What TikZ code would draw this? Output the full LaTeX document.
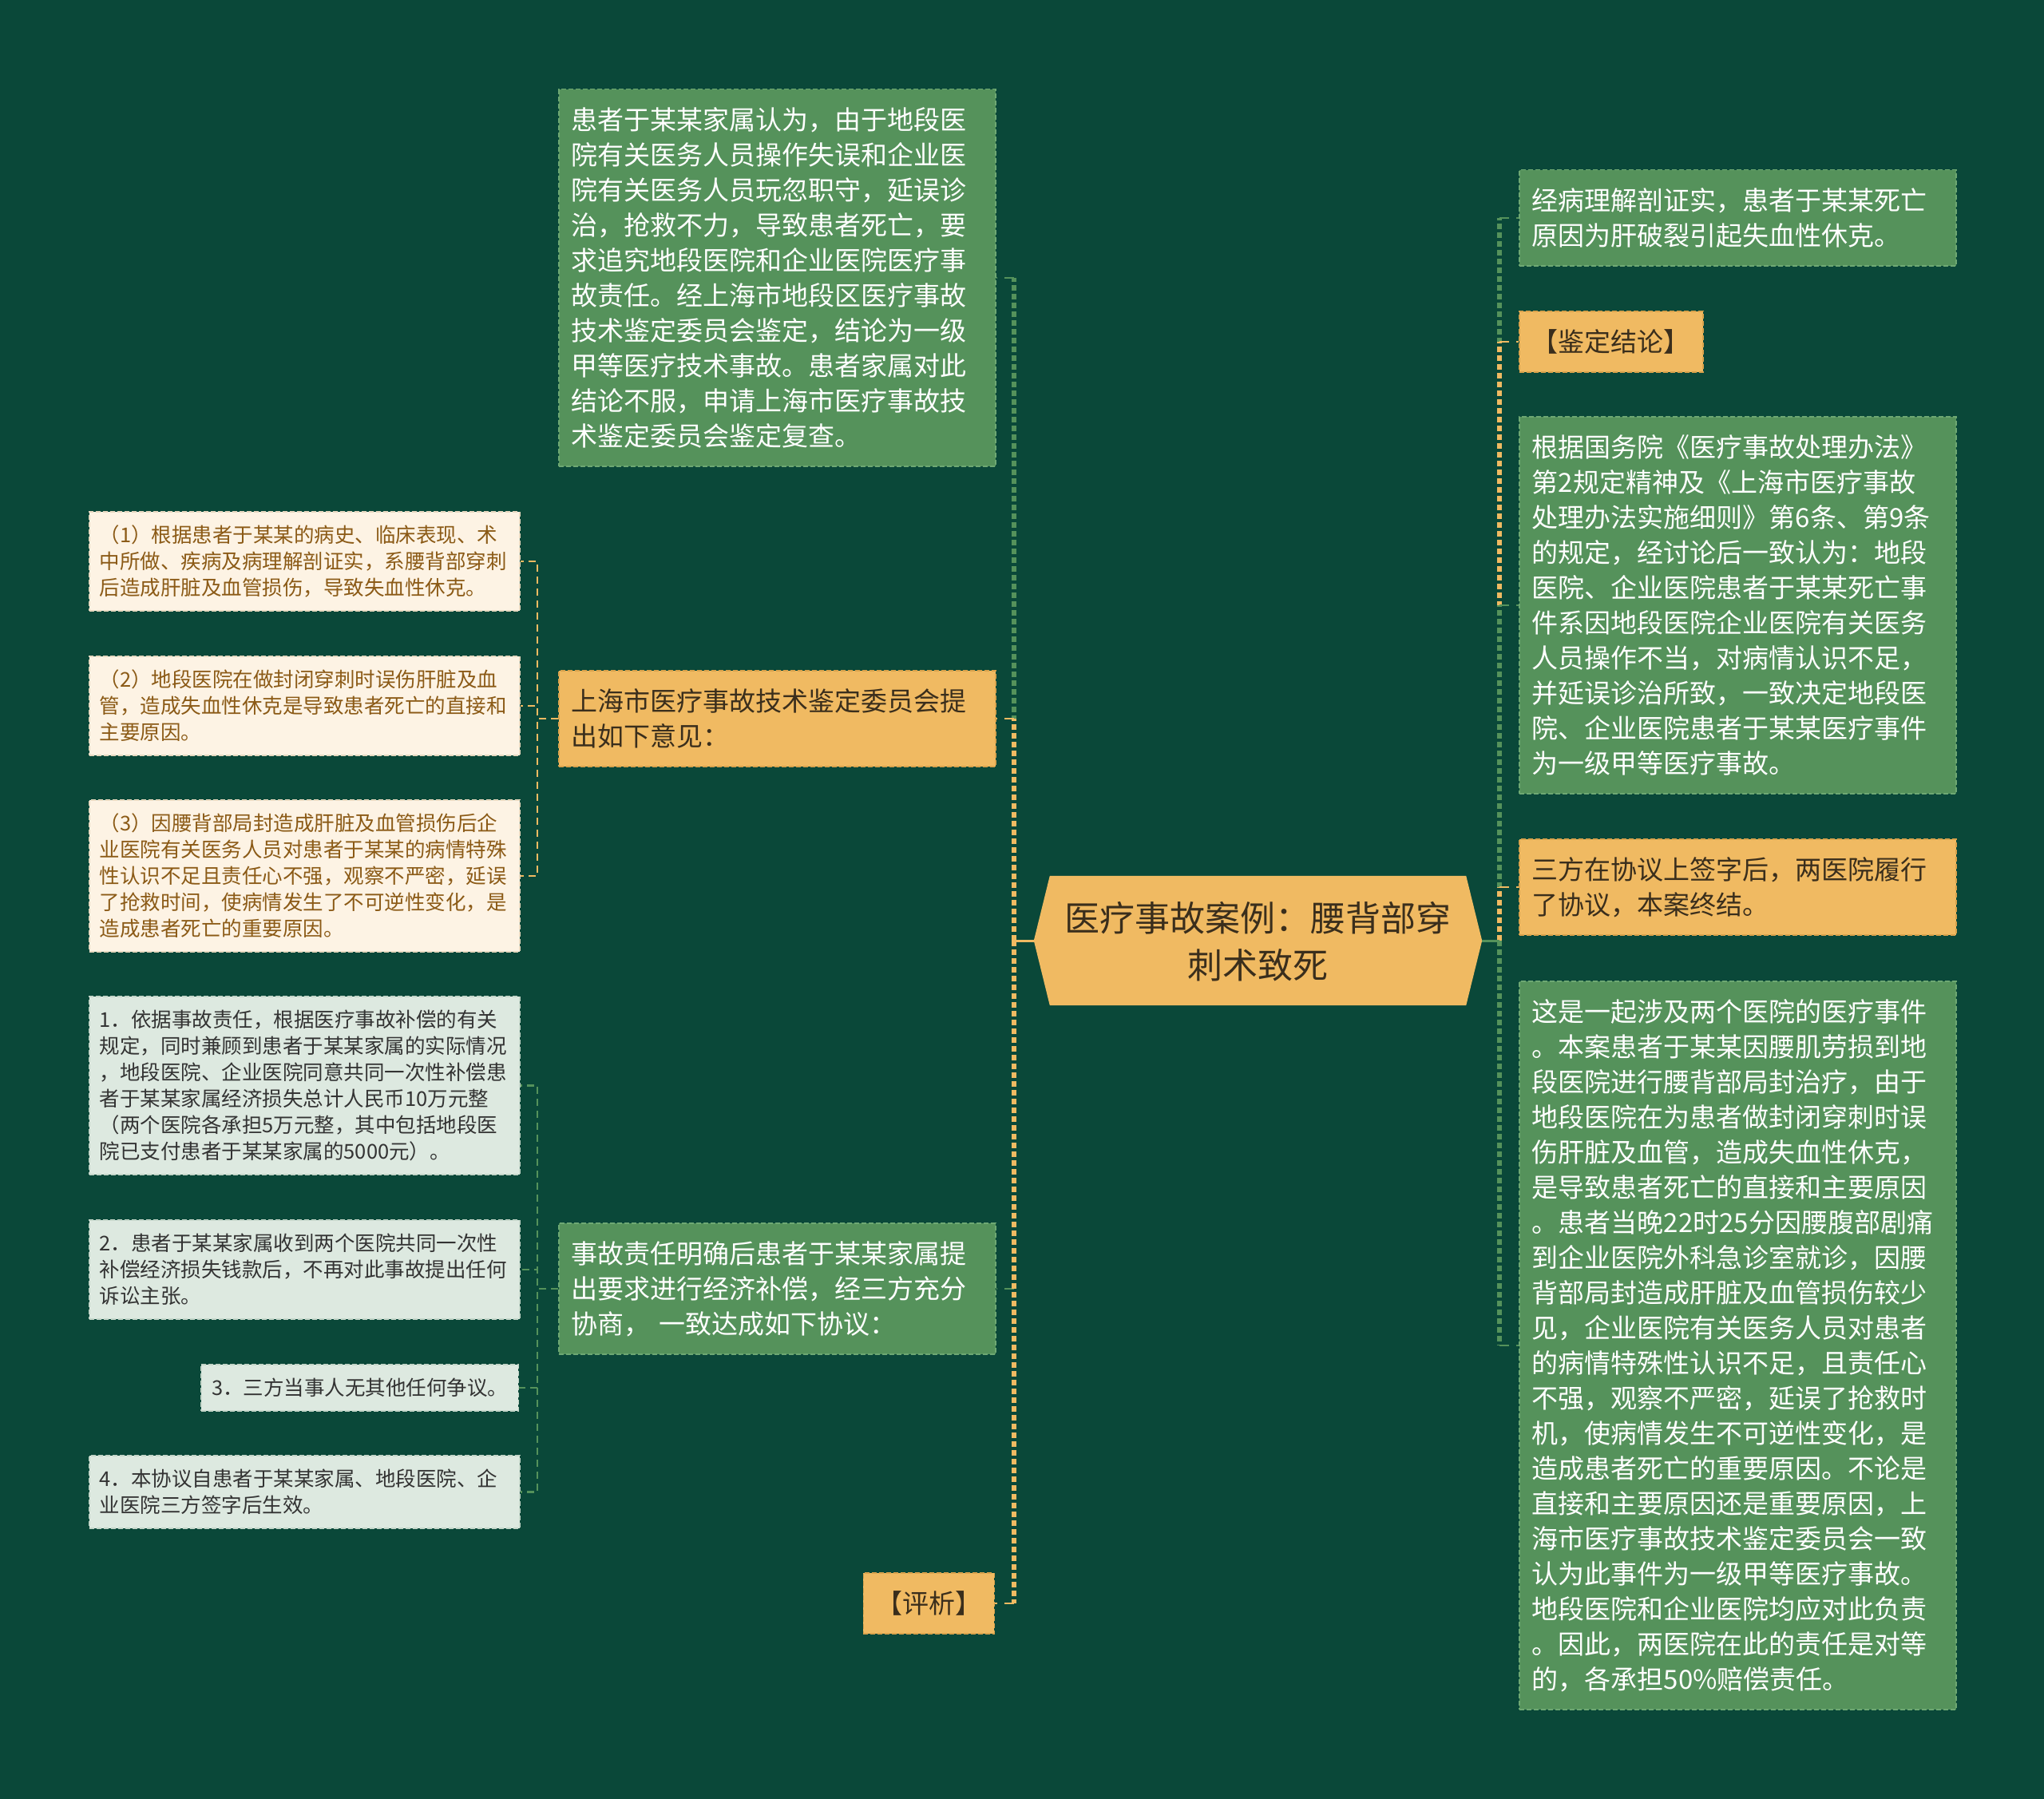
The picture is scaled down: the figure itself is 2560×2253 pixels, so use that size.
\documentclass[tikz,border=0pt]{standalone}
\usepackage{fontspec}
\setmainfont{Noto Sans CJK SC}
\usetikzlibrary{backgrounds,calc}
\definecolor{bgc}{HTML}{0A4839}
\definecolor{grn}{HTML}{55925B}
\definecolor{grnb}{HTML}{6EA873}
\definecolor{org}{HTML}{F0BA62}
\definecolor{orgb}{HTML}{D9A24C}
\definecolor{otext}{HTML}{3A2E1C}
\definecolor{cream}{HTML}{FDF3E4}
\definecolor{creamb}{HTML}{E6D8BF}
\definecolor{brn}{HTML}{8B5A16}
\definecolor{lgrn}{HTML}{DDE9E0}
\definecolor{lgrnb}{HTML}{C3D5C8}
\definecolor{gtext}{HTML}{333333}
\newcommand\fsOne{\fontsize{33pt}{44pt}\selectfont}
\newcommand\fsTwo{\fontsize{25.5pt}{33pt}\selectfont}
\newcommand\fsRoot{\fontsize{44pt}{59pt}\selectfont}
\newcommand\ls{\rule[-0.2\baselineskip]{0pt}{\baselineskip}}
\tikzset{
  boxone/.style={anchor=north west, align=left, inner xsep=16pt, inner ysep=16pt,
    text width=515pt, font=\fsOne, line width=1.5pt, dash pattern=on 6pt off 3pt},
  gbox/.style={boxone, fill=grn, draw=grnb, text=white},
  obox/.style={boxone, fill=org, draw=orgb, text=otext},
  boxtwo/.style={anchor=north west, align=left, inner xsep=13pt, inner ysep=12.5pt,
    text width=513pt, font=\fsTwo, line width=1.5pt, dash pattern=on 6pt off 3pt},
  cbox/.style={boxtwo, fill=cream, draw=creamb, text=brn},
  lbox/.style={boxtwo, fill=lgrn, draw=lgrnb, text=gtext},
  rootseg/.style={line width=3pt},
  trunkv/.style={line width=5.5pt, dash pattern=on 7pt off 4pt},
  stub/.style={line width=2.5pt, dash pattern=on 12pt off 9pt},
  brline/.style={line width=2.5pt, dash pattern=on 9pt off 6pt}
}
\begin{document}
\begin{tikzpicture}[x=1pt,y=-1pt]
\useasboundingbox (0,0) rectangle (2560,2253);
\begin{scope}[on background layer]
\fill[bgc] (0,0) rectangle (2560,2253);
\end{scope}

% root
\node[inner sep=0pt, minimum width=561pt, minimum height=162pt, align=center,
  font=\fsRoot, text=otext] (root) at (1575.5,1178) {\ls 医疗事故案例：腰背部穿\\刺术致死\ls};
\begin{scope}[on background layer]
\fill[org] (root.west) -- ($(root.north west)+(20,0)$) -- ($(root.north east)+(-20,0)$)
  -- (root.east) -- ($(root.south east)+(-20,0)$) -- ($(root.south west)+(20,0)$) -- cycle;
\end{scope}

% left level 1
\node[gbox] (A) at (699,111) {\ls 患者于某某家属认为，由于地段医\\院有关医务人员操作失误和企业医\\院有关医务人员玩忽职守，延误诊\\治，抢救不力，导致患者死亡，要\\求追究地段医院和企业医院医疗事\\故责任。经上海市地段区医疗事故\\技术鉴定委员会鉴定，结论为一级\\甲等医疗技术事故。患者家属对此\\结论不服，申请上海市医疗事故技\\术鉴定委员会鉴定复查。\ls};
\node[obox] (B) at (699,839) {\ls 上海市医疗事故技术鉴定委员会提\\出如下意见：\ls};
\node[gbox] (C) at (699,1531) {\ls 事故责任明确后患者于某某家属提\\出要求进行经济补偿，经三方充分\\协商， 一致达成如下协议：\ls};
\node[obox, anchor=north east, text width=] (D) at (1246,1969) {\ls【评析】\ls};

% right level 1
\node[gbox] (E) at (1902,212) {\ls 经病理解剖证实，患者于某某死亡\\原因为肝破裂引起失血性休克。\ls};
\node[obox, text width=] (F) at (1902,389) {\ls【鉴定结论】\ls};
\node[gbox] (G) at (1902,521) {\ls 根据国务院《医疗事故处理办法》\\第2规定精神及《上海市医疗事故\\处理办法实施细则》第6条、第9条\\的规定，经讨论后一致认为：地段\\医院、企业医院患者于某某死亡事\\件系因地段医院企业医院有关医务\\人员操作不当，对病情认识不足，\\并延误诊治所致，一致决定地段医\\院、企业医院患者于某某医疗事件\\为一级甲等医疗事故。\ls};
\node[obox] (H) at (1902,1050) {\ls 三方在协议上签字后，两医院履行\\了协议，本案终结。\ls};
\node[gbox] (I) at (1902,1228) {\ls 这是一起涉及两个医院的医疗事件\\。本案患者于某某因腰肌劳损到地\\段医院进行腰背部局封治疗，由于\\地段医院在为患者做封闭穿刺时误\\伤肝脏及血管，造成失血性休克，\\是导致患者死亡的直接和主要原因\\。患者当晚22时25分因腰腹部剧痛\\到企业医院外科急诊室就诊，因腰\\背部局封造成肝脏及血管损伤较少\\见，企业医院有关医务人员对患者\\的病情特殊性认识不足，且责任心\\不强，观察不严密，延误了抢救时\\机，使病情发生不可逆性变化，是\\造成患者死亡的重要原因。不论是\\直接和主要原因还是重要原因，上\\海市医疗事故技术鉴定委员会一致\\认为此事件为一级甲等医疗事故。\\地段医院和企业医院均应对此负责\\。因此，两医院在此的责任是对等\\的，各承担50\%赔偿责任。\ls};

% left level 2 under B
\node[cbox] (B1) at (111,640) {\ls（1）根据患者于某某的病史、临床表现、术\\中所做、疾病及病理解剖证实，系腰背部穿刺\\后造成肝脏及血管损伤，导致失血性休克。\ls};
\node[cbox] (B2) at (111,821) {\ls（2）地段医院在做封闭穿刺时误伤肝脏及血\\管，造成失血性休克是导致患者死亡的直接和\\主要原因。\ls};
\node[cbox] (B3) at (111,1001) {\ls（3）因腰背部局封造成肝脏及血管损伤后企\\业医院有关医务人员对患者于某某的病情特殊\\性认识不足且责任心不强，观察不严密，延误\\了抢救时间，使病情发生了不可逆性变化，是\\造成患者死亡的重要原因。\ls};

% left level 2 under C
\node[lbox] (C1) at (111,1247) {\ls 1．依据事故责任，根据医疗事故补偿的有关\\规定，同时兼顾到患者于某某家属的实际情况\\，地段医院、企业医院同意共同一次性补偿患\\者于某某家属经济损失总计人民币10万元整\\（两个医院各承担5万元整，其中包括地段医\\院已支付患者于某某家属的5000元）。\ls};
\node[lbox] (C2) at (111,1527) {\ls 2．患者于某某家属收到两个医院共同一次性\\补偿经济损失钱款后，不再对此事故提出任何\\诉讼主张。\ls};
\node[lbox, anchor=north east, text width=] (C3) at (650,1708) {\ls 3．三方当事人无其他任何争议。\ls};
\node[lbox] (C4) at (111,1822) {\ls 4．本协议自患者于某某家属、地段医院、企\\业医院三方签字后生效。\ls};

% trunk coordinates
\coordinate (tl) at (1270,1178);
\coordinate (tr) at (1878,1178);
\coordinate (bx) at (673,0);

% left connectors
\foreach \n/\c in {A/grn,B/org,C/grn,D/org}{
  \draw[rootseg, \c] (root.west) -- (tl);
  \draw[trunkv, \c] (tl) -- (tl |- \n.east);
  \draw[stub, \c] (tl |- \n.east) -- (\n.east);
}
% right connectors
\foreach \n/\c in {E/grn,F/org,G/grn,H/org,I/grn}{
  \draw[rootseg, \c] (root.east) -- (tr);
  \draw[trunkv, \c] (tr) -- (tr |- \n.west);
  \draw[stub, \c] (tr |- \n.west) -- (\n.west);
}
% level 2 connectors
\foreach \n in {B1,B2,B3}{
  \draw[brline, org] (B.west) -- (bx |- B.west) -- (bx |- \n.east) -- (\n.east);
}
\foreach \n in {C1,C2,C3,C4}{
  \draw[brline, grn] (C.west) -- (bx |- C.west) -- (bx |- \n.east) -- (\n.east);
}
\end{tikzpicture}
\end{document}
